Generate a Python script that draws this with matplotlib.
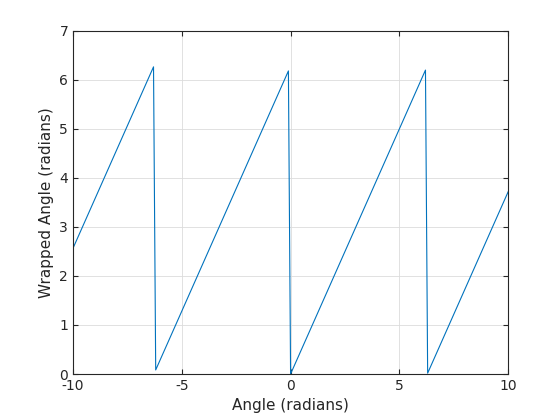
import matplotlib
matplotlib.use("Agg")
import matplotlib.pyplot as plt

# vertices of the sampled wrapped line (x step 0.1)
angle = [-10.0, -6.3, -6.2, -0.1, 0.0, 6.2, 6.3, 10.0]
wrapped = [2.566, 6.266, 0.083, 6.183, 0.0, 6.2, 0.017, 3.717]

xticks = [-10, -5, 0, 5, 10]
xticklabels = ["-10", "-5", "0", "5", "10"]
yticks = [0, 1, 2, 3, 4, 5, 6, 7]

plt.rcParams['font.family'] = ['DejaVu Sans']
fig = plt.figure(figsize=(5.6, 4.2), dpi=100)
ax = fig.add_axes([0.1304, 0.1095, 0.777, 0.817])
ax.plot(angle, wrapped, color='#0072BD', linewidth=0.8)
ax.set_xlim(-10, 10)
ax.set_ylim(0, 7)
ax.set_xticks(xticks)
ax.set_xticklabels(xticklabels)
ax.set_yticks(yticks)
ax.grid(True, color='#dcdcdc', linewidth=0.6)
ax.set_axisbelow(True)
for s in ax.spines.values():
    s.set_color('#262626')
    s.set_linewidth(0.8)
ax.tick_params(direction='in', top=True, right=True, length=3.5, width=0.8,
               colors='#262626', labelsize=10, labelcolor='#262626')
ax.set_xlabel('Angle (radians)', fontsize=11, color='#262626')
ax.set_ylabel('Wrapped Angle (radians)', fontsize=11, color='#262626')
fig.savefig('out.png', dpi=100, facecolor='white')
